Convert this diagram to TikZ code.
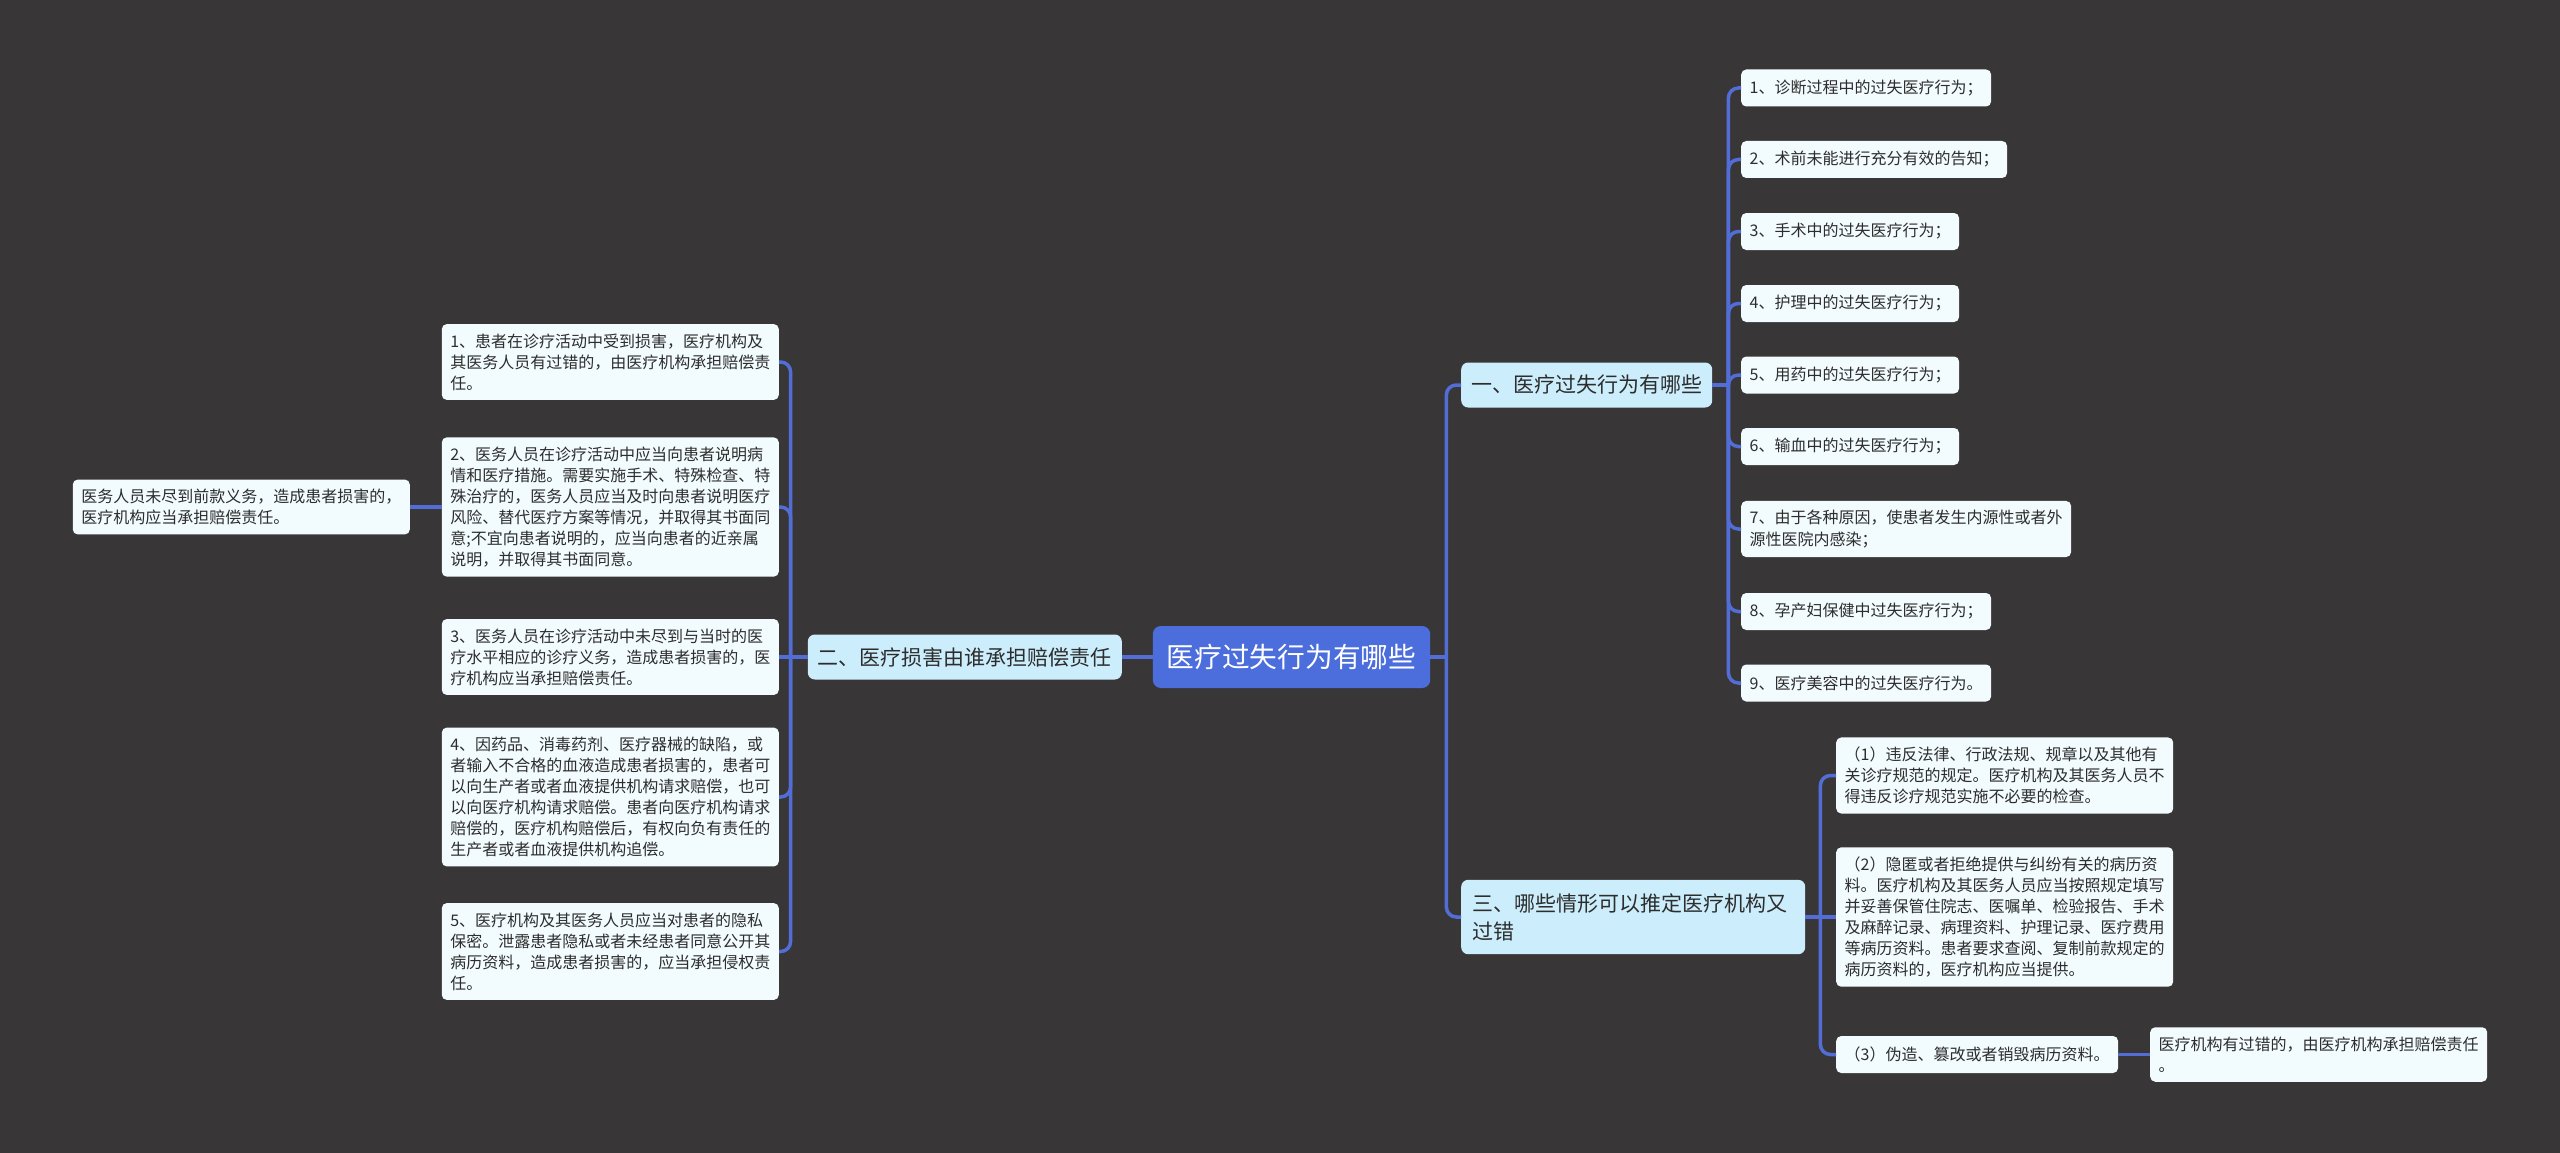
\documentclass[tikz,border=0pt]{standalone}
\usepackage{fontspec}
\setmainfont{Noto Sans CJK SC}
\definecolor{bgc}{RGB}{56,54,55}
\definecolor{leafc}{RGB}{242,251,254}
\definecolor{branchc}{RGB}{204,238,252}
\definecolor{rootc}{RGB}{76,110,220}
\definecolor{linkc}{RGB}{82,110,214}
\definecolor{textc}{RGB}{45,45,45}

\begin{document}
\begin{tikzpicture}[x=1pt, y=-1pt,
  leaf/.style={fill=leafc, text=textc, rounded corners=5pt, align=left,
    font=\fontsize{16}{21}\selectfont, inner xsep=8.5pt, inner ysep=9.5pt, minimum height=37pt},
  branch/.style={fill=branchc, text=textc, rounded corners=7pt, align=left,
    font=\fontsize{21}{28}\selectfont, inner xsep=10pt, inner ysep=12pt, minimum height=45pt},
  topic/.style={fill=rootc, text=white, rounded corners=8pt,
    font=\fontsize{27.7}{34}\selectfont, inner xsep=14pt, minimum height=62pt},
  link/.style={draw=linkc, line width=3.5pt, rounded corners=10pt}]
\fill[bgc] (0,0) rectangle (2560,1153);
\useasboundingbox (0,0) rectangle (2560,1153);

% centre and main branches
\node[topic] (root) at (1291.5,657) {医疗过失行为有哪些};
\node[branch, anchor=east] (er) at (1122,657) {二、医疗损害由谁承担赔偿责任};
\node[branch, anchor=west] (yi) at (1461,385) {一、医疗过失行为有哪些};
\node[branch, anchor=west, text width=322pt, inner xsep=11pt, inner ysep=13.5pt] (san) at (1461,917) {三、哪些情形可以推定医疗机构又\\过错};

% left side
\node[leaf, anchor=east] (l1) at (779,362) {1、患者在诊疗活动中受到损害，医疗机构及\\其医务人员有过错的，由医疗机构承担赔偿责\\任。};
\node[leaf, anchor=east] (l2) at (779,507) {2、医务人员在诊疗活动中应当向患者说明病\\情和医疗措施。需要实施手术、特殊检查、特\\殊治疗的，医务人员应当及时向患者说明医疗\\风险、替代医疗方案等情况，并取得其书面同\\意;不宜向患者说明的，应当向患者的近亲属\\说明，并取得其书面同意。};
\node[leaf, anchor=east] (l3) at (779,657) {3、医务人员在诊疗活动中未尽到与当时的医\\疗水平相应的诊疗义务，造成患者损害的，医\\疗机构应当承担赔偿责任。};
\node[leaf, anchor=east] (l4) at (779,797) {4、因药品、消毒药剂、医疗器械的缺陷，或\\者输入不合格的血液造成患者损害的，患者可\\以向生产者或者血液提供机构请求赔偿，也可\\以向医疗机构请求赔偿。患者向医疗机构请求\\赔偿的，医疗机构赔偿后，有权向负有责任的\\生产者或者血液提供机构追偿。};
\node[leaf, anchor=east] (l5) at (779,951.5) {5、医疗机构及其医务人员应当对患者的隐私\\保密。泄露患者隐私或者未经患者同意公开其\\病历资料，造成患者损害的，应当承担侵权责\\任。};
\node[leaf, anchor=east] (fl) at (410,507) {医务人员未尽到前款义务，造成患者损害的，\\医疗机构应当承担赔偿责任。};

% right side, first group
\node[leaf, anchor=west] (r1) at (1741,88) {1、诊断过程中的过失医疗行为；};
\node[leaf, anchor=west] (r2) at (1741,159.5) {2、术前未能进行充分有效的告知；};
\node[leaf, anchor=west] (r3) at (1741,231.5) {3、手术中的过失医疗行为；};
\node[leaf, anchor=west] (r4) at (1741,303.5) {4、护理中的过失医疗行为；};
\node[leaf, anchor=west] (r5) at (1741,375) {5、用药中的过失医疗行为；};
\node[leaf, anchor=west] (r6) at (1741,446.5) {6、输血中的过失医疗行为；};
\node[leaf, anchor=west] (r7) at (1741,529) {7、由于各种原因，使患者发生内源性或者外\\源性医院内感染；};
\node[leaf, anchor=west] (r8) at (1741,611.5) {8、孕产妇保健中过失医疗行为；};
\node[leaf, anchor=west] (r9) at (1741,683) {9、医疗美容中的过失医疗行为。};

% right side, third group
\node[leaf, anchor=west] (s1) at (1836,775.5) {（1）违反法律、行政法规、规章以及其他有\\关诊疗规范的规定。医疗机构及其医务人员不\\得违反诊疗规范实施不必要的检查。};
\node[leaf, anchor=west] (s2) at (1836,917) {（2）隐匿或者拒绝提供与纠纷有关的病历资\\料。医疗机构及其医务人员应当按照规定填写\\并妥善保管住院志、医嘱单、检验报告、手术\\及麻醉记录、病理资料、护理记录、医疗费用\\等病历资料。患者要求查阅、复制前款规定的\\病历资料的，医疗机构应当提供。};
\node[leaf, anchor=west] (s3) at (1836,1054.5) {（3）伪造、篡改或者销毁病历资料。};
\node[leaf, anchor=west] (s4) at (2150,1054.5) {医疗机构有过错的，由医疗机构承担赔偿责任\\。};

% connectors
\coordinate (rtrunk) at ([xshift=16pt]root.east);
\coordinate (ltrunk) at ([xshift=-17pt]er.west);
\coordinate (ytrunk) at ([xshift=16pt]yi.east);
\coordinate (strunk) at ([xshift=15pt]san.east);
\draw[link] (root.west) -- (er.east);
\draw[link] (root.east) -- (rtrunk);
\draw[link] (rtrunk) |- (yi.west);
\draw[link] (rtrunk) |- (san.west);
\draw[link] (er.west) -- (ltrunk);
\foreach \i in {1,2,4,5} \draw[link] (ltrunk) |- (l\i.east);
\draw[link] (ltrunk) -- (l3.east);
\draw[link] (l2.west) -- (fl.east);
\draw[link] (yi.east) -- (ytrunk);
\foreach \i in {1,...,9} \draw[link] (ytrunk) |- (r\i.west);
\draw[link] (san.east) -- (strunk);
\draw[link] (strunk) |- (s1.west);
\draw[link] (strunk) -- (s2.west);
\draw[link] (strunk) |- (s3.west);
\draw[link] (s3.east) -- (s4.west);
\end{tikzpicture}
\end{document}
